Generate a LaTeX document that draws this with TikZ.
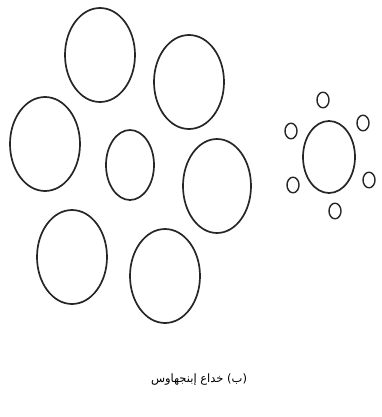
\documentclass[tikz,border=0pt]{standalone}
\usepackage{fontspec}
\newfontfamily\arabicfont[Script=Arabic]{DejaVu Sans}
\TeXXeTstate=1
\begin{document}
\begin{tikzpicture}[x=1pt, y=-1pt, line join=round, line cap=round]
	\tikzset{ring/.style={draw=black!85, line width=1.7pt}, dot/.style={draw=black!85, line width=1.4pt}}
	\def\rbx{35}\def\rby{47}\def\rsx{6}\def\rsy{7.8}
	\useasboundingbox (0,0) rectangle (382,417);
	% large surround
	\draw[ring] (100,55) ellipse ({\rbx} and {\rby});
	\draw[ring] (189,82) ellipse ({\rbx} and {\rby});
	\draw[ring] (45,144) ellipse ({\rbx} and {\rby});
	\draw[ring] (217,186) ellipse ({\rbx-1} and {\rby});
	\draw[ring] (72,257) ellipse ({\rbx} and {\rby});
	\draw[ring] (165,276) ellipse ({\rbx} and {\rby});
	\draw[ring] (130,165) ellipse (24 and 35);
	% small surround
	\draw[ring] (329,157) ellipse (26 and 36);
	\foreach \p in {(323,100),(363,123),(369,180),(335,211),(293,185),(291,131)}
		\draw[dot] \p ellipse ({\rsx} and {\rsy});
	\node (caption) at (199,380) {\fontsize{11.5}{13}\selectfont\arabicfont\beginR(ب) خداع إبنجهاوس\endR};
\end{tikzpicture}
\end{document}
